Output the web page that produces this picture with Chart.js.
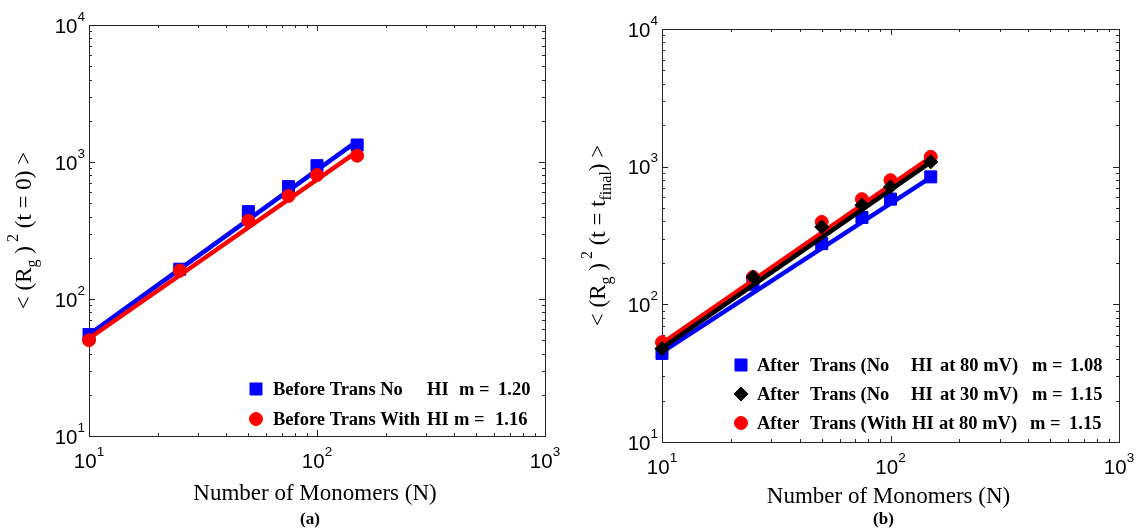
<!DOCTYPE html>
<html>
<head>
<meta charset="utf-8">
<script src="https://cdn.jsdelivr.net/npm/chart.js@4.4.0/dist/chart.umd.min.js"></script>
<style>
  html, body { margin: 0; padding: 0; background: #fff; }
  #wrap { position: relative; width: 1144px; height: 529px; overflow: hidden; }
  .pane { position: absolute; top: 0; width: 572px; height: 529px; }
</style>
</head>
<body>
<div id="wrap">
  <div class="pane" style="left:0"><canvas id="chartA" width="572" height="529"></canvas></div>
  <div class="pane" style="left:572px"><canvas id="chartB" width="572" height="529"></canvas></div>
</div>
<script>
// chain lengths simulated
const monomers = [10, 25, 50, 75, 100, 150];
const fitEnds  = [10, 150];

// (a) before translocation
const beforeNoHI      = [55, 165, 434, 661, 940, 1330];
const beforeWithHI    = [50, 161, 373, 565, 804, 1112];
const fitBeforeNoHI   = [55, 1420];
const fitBeforeWithHI = [51.5, 1190];

// (b) after translocation
const afterNoHI80      = [44, 140, 276, 428, 581, 843];
const afterNoHI30      = [47.6, 158, 365, 525, 713, 1084];
const afterWithHI80    = [53, 158, 397, 581, 798, 1178];
const fitAfterNoHI80   = [45, 837];
const fitAfterNoHI30   = [48, 1080];
const fitAfterWithHI80 = [52, 1170];

const xTicks = [10, 100, 1000];
const yTicks = [10, 100, 1000, 10000];

// legend rows, split into aligned columns [text, offset from row start]
const legendA = [
  [['Before Trans No', 0], ['HI', 154], ['m =', 186], ['1.20', 225]],
  [['Before Trans With', 0], ['HI', 154], ['m =', 181], ['1.16', 222]]
];
const legendB = [
  [['After', 0], ['Trans (No', 53], ['HI', 154], ['at 80 mV)', 183], ['m =', 275], ['1.08', 313]],
  [['After', 0], ['Trans (No', 53], ['HI', 154], ['at 30 mV)', 183], ['m =', 275], ['1.15', 313]],
  [['After', 0], ['Trans (With', 53], ['HI', 155], ['at 80 mV)', 182], ['m =', 273], ['1.15', 312]]
];

const SERIF = '"Liberation Serif", "Times New Roman", serif';
const SANS  = '"Liberation Sans", Arial, sans-serif';

const BLUE = '#0000ff', RED = '#ff0000', BLACK = '#000000';

const pts = (xs, ys) => xs.map((x, i) => ({ x, y: ys[i] }));

function markerSet(ys, color, style, radius, order){
  return {
    data: pts(monomers, ys), showLine: false, order, clip: false,
    pointStyle: style, pointRadius: radius, pointHoverRadius: radius,
    backgroundColor: color, borderColor: color, pointBorderWidth: 1
  };
}
function fitSet(ys, color, order){
  return {
    data: pts(fitEnds, ys), showLine: true, order, clip: false,
    borderColor: color, borderWidth: 4.5, pointRadius: 0, pointHoverRadius: 0, fill: false
  };
}

// rich text: parts = [{t, size, dy}] laid out left to right from x
function richWidth(ctx, parts){
  return parts.reduce((w, p) => { ctx.font = p.size + 'px ' + (p.font || SERIF); return w + ctx.measureText(p.t).width; }, 0);
}
function drawRich(ctx, parts, x, y){
  parts.forEach(p => {
    ctx.font = p.size + 'px ' + (p.font || SERIF);
    ctx.fillText(p.t, x, y + (p.dy || 0));
    x += ctx.measureText(p.t).width;
  });
}

function powLabel(exp){
  return [{t: '10', size: 20.5, font: SANS}, {t: String(exp), size: 13.5, font: SANS, dy: -12}];
}

const axesPlugin = {
  id: 'matlabAxes',
  beforeDatasetsDraw(chart){
    const {ctx, chartArea: a, scales: {x, y}} = chart;
    ctx.save();
    ctx.strokeStyle = '#262626';
    ctx.lineWidth = 1;
    ctx.strokeRect(Math.round(a.left) + 0.5, Math.round(a.top) + 0.5,
                   Math.round(a.right - a.left), Math.round(a.bottom - a.top));
    ctx.beginPath();
    // inward ticks on all four sides, decades long, 2..9 short
    for (let d = 10; d < 1000; d *= 10){
      for (let k = 1; k <= 10; k++){
        const px = Math.round(x.getPixelForValue(d * k)) + 0.5;
        const len = (k === 1 || k === 10) ? 6 : 3;
        ctx.moveTo(px, a.bottom); ctx.lineTo(px, a.bottom - len);
        ctx.moveTo(px, a.top);    ctx.lineTo(px, a.top + len);
      }
    }
    for (let d = 10; d < 10000; d *= 10){
      for (let k = 1; k <= 10; k++){
        const py = Math.round(y.getPixelForValue(d * k)) + 0.5;
        const len = (k === 1 || k === 10) ? 6 : 3;
        ctx.moveTo(a.left, py);  ctx.lineTo(a.left + len, py);
        ctx.moveTo(a.right, py); ctx.lineTo(a.right - len, py);
      }
    }
    ctx.stroke();

    // tick labels 10^n
    ctx.fillStyle = '#000';
    ctx.textBaseline = 'alphabetic';
    ctx.textAlign = 'left';
    xTicks.forEach(v => {
      const parts = powLabel(Math.round(Math.log10(v)));
      const w = richWidth(ctx, parts);
      drawRich(ctx, parts, x.getPixelForValue(v) - w / 2, a.bottom + 32);
    });
    yTicks.forEach(v => {
      const parts = powLabel(Math.round(Math.log10(v)));
      const w = richWidth(ctx, parts);
      drawRich(ctx, parts, a.left - 4 - w, y.getPixelForValue(v) + 7.5);
    });
    ctx.restore();
  },
  afterDatasetsDraw(chart, args, opts){
    const {ctx, chartArea: a} = chart;
    ctx.save();
    ctx.textBaseline = 'alphabetic';
    ctx.textAlign = 'left';

    // legend
    opts.legend.forEach((row, i) => {
      const cy = opts.legendY + i * opts.legendGap;
      ctx.fillStyle = row.color; ctx.strokeStyle = row.color; ctx.lineWidth = 1;
      Chart.helpers.drawPoint(ctx, {pointStyle: row.style, radius: row.radius, borderWidth: 1}, opts.legendX, cy);
      ctx.fillStyle = '#000';
      ctx.font = 'bold 18.5px ' + SERIF;
      row.parts.forEach(([t, dx]) => ctx.fillText(t, opts.textX + dx, cy + 6));
    });

    // x axis title and panel tag
    ctx.textAlign = 'center';
    const cx = (a.left + a.right) / 2;
    ctx.font = '23px ' + SERIF;
    ctx.fillText('Number of Monomers (N)', cx - 2, opts.titleY);
    ctx.font = 'bold 17px ' + SERIF;
    ctx.fillText(opts.tag, cx - 7, 524);

    // y axis title, rotated
    ctx.textAlign = 'left';
    const parts = opts.yTitle;
    const w = richWidth(ctx, parts);
    ctx.translate(opts.yTitleX, (a.top + a.bottom) / 2);
    ctx.rotate(-Math.PI / 2);
    drawRich(ctx, parts, -w / 2, 0);
    ctx.restore();
  }
};

function logScales(){
  return {
    x: { type: 'logarithmic', min: 10, max: 1000, display: false },
    y: { type: 'logarithmic', min: 10, max: 10000, display: false }
  };
}

function makeChart(id, datasets, padding, extra){
  return new Chart(document.getElementById(id), {
    type: 'scatter',
    data: { datasets },
    options: {
      responsive: false, animation: false, events: [],
      layout: { padding },
      scales: logScales(),
      plugins: { legend: { display: false }, tooltip: { enabled: false }, matlabAxes: extra }
    },
    plugins: [axesPlugin]
  });
}

makeChart('chartA', [
  fitSet(fitBeforeNoHI, BLUE, 4),
  markerSet(beforeNoHI, BLUE, 'rect', 8.5, 3),
  fitSet(fitBeforeWithHI, RED, 2),
  markerSet(beforeWithHI, RED, 'circle', 6.5, 1)
], { left: 89, right: 27, top: 25, bottom: 93 }, {
  tag: '(a)', titleY: 500,
  legendX: 256, textX: 273, legendY: 389, legendGap: 30,
  legend: [
    { parts: legendA[0], color: BLUE, style: 'rect', radius: 8.5 },
    { parts: legendA[1], color: RED, style: 'circle', radius: 6.5 }
  ],
  yTitleX: 31,
  yTitle: [
    {t: '< (R', size: 23}, {t: 'g', size: 16, dy: 6}, {t: ' )', size: 23},
    {t: ' 2', size: 16, dy: -13}, {t: ' (t = 0) >', size: 23}
  ]
});

makeChart('chartB', [
  fitSet(fitAfterNoHI80, BLUE, 6),
  markerSet(afterNoHI80, BLUE, 'rect', 8.5, 5),
  fitSet(fitAfterWithHI80, RED, 4),
  markerSet(afterWithHI80, RED, 'circle', 6.5, 3),
  fitSet(fitAfterNoHI30, BLACK, 2),
  markerSet(afterNoHI30, BLACK, 'rectRot', 7, 1)
], { left: 90, right: 25, top: 29, bottom: 87 }, {
  tag: '(b)', titleY: 503,
  legendX: 169, textX: 185, legendY: 365, legendGap: 29,
  legend: [
    { parts: legendB[0], color: BLUE, style: 'rect', radius: 8.5 },
    { parts: legendB[1], color: BLACK, style: 'rectRot', radius: 7 },
    { parts: legendB[2], color: RED, style: 'circle', radius: 6.5 }
  ],
  yTitleX: 33,
  yTitle: [
    {t: '< (R', size: 23}, {t: 'g', size: 16, dy: 6}, {t: ' )', size: 23},
    {t: ' 2', size: 16, dy: -13}, {t: ' (t = t', size: 23}, {t: 'final', size: 16, dy: 6},
    {t: ') >', size: 23}
  ]
});
</script>
</body>
</html>
